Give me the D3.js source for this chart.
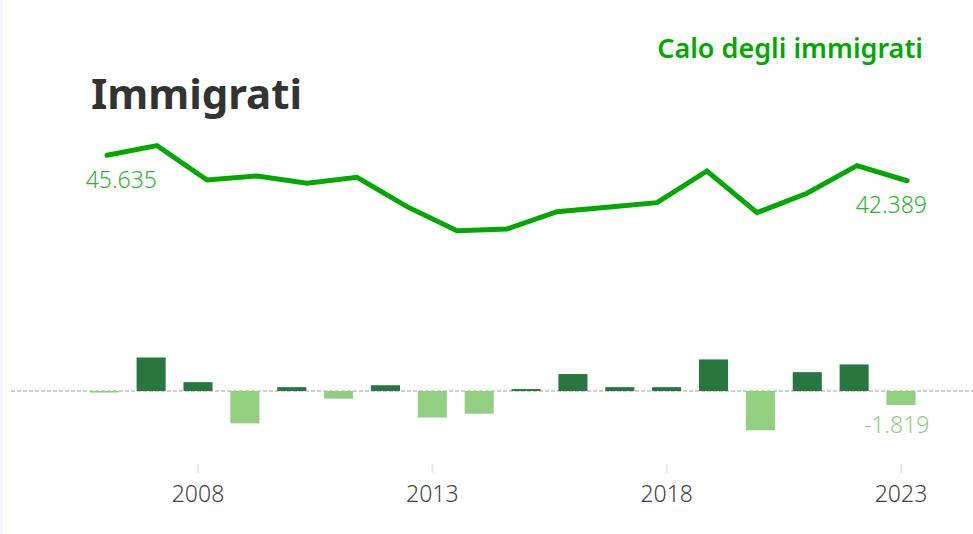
<!DOCTYPE html>
<html>
<head>
<meta charset="utf-8">
<script src="https://cdn.jsdelivr.net/npm/d3@7"></script>
<style>
  body { margin: 0; background: #fff; }
  svg { display: block; font-family: "Noto Sans", "Open Sans", sans-serif; }
</style>
</head>
<body>
<svg width="973" height="534"></svg>
<script>
// line: immigrati per anno (migliaia)
const lineYears = [2007, 2008, 2009, 2010, 2011, 2012, 2013, 2014, 2015, 2016, 2017, 2018, 2019, 2020, 2021, 2022, 2023];
const lineValues = [45.635, 46.86, 42.49, 43.0, 42.07, 42.83, 39.09, 36.03, 36.25, 38.45, 39.01, 39.6, 43.63, 38.32, 40.79, 44.31, 42.389];

// bars: variazione annua (migliaia)
const barYears = [2006, 2007, 2008, 2009, 2010, 2011, 2012, 2013, 2014, 2015, 2016, 2017, 2018, 2019, 2020, 2021, 2022, 2023];
const barValues = [-0.2, 4.35, 1.15, -4.2, 0.5, -1.0, 0.75, -3.45, -2.95, 0.25, 2.2, 0.5, 0.5, 4.1, -5.1, 2.45, 3.45, -1.819];

const tickYears = [2008, 2013, 2018, 2023];

// italian style: 45.635, -1.819
const fmtNum = v => (v < 0 ? "-" : "") + Math.abs(v).toFixed(3);

const svg = d3.select("svg");

svg.append("rect")
    .attr("x", 0).attr("y", 0)
    .attr("width", 3).attr("height", 534)
    .attr("fill", "#f6f6fe");

// titles
svg.append("text")
    .attr("x", 91).attr("y", 109)
    .attr("font-size", 42)
    .attr("font-weight", 700)
    .attr("fill", "#333")
    .attr("textLength", 211)
    .text("Immigrati");

svg.append("text")
    .attr("x", 923).attr("y", 58)
    .attr("text-anchor", "end")
    .attr("font-size", 27)
    .attr("font-weight", 600)
    .attr("fill", "#00a800")
    .text("Calo degli immigrati");

// line chart
const xLine = d3.scaleLinear()
    .domain([2007, 2023])
    .range([107, 907]);

const yLine = d3.scaleLinear()
    .domain([30, 50])
    .range([278, 121]);

const line = d3.line()
    .x((d, i) => xLine(lineYears[i]))
    .y(d => yLine(d));

svg.append("path")
    .datum(lineValues)
    .attr("fill", "none")
    .attr("stroke", "#00a800")
    .attr("stroke-width", 5)
    .attr("stroke-linejoin", "miter")
    .attr("stroke-linecap", "round")
    .attr("d", line);

const first = lineValues[0], last = lineValues[lineValues.length - 1];
svg.append("text")
    .attr("x", xLine(lineYears[0]) + 50)
    .attr("y", yLine(first) + 33)
    .attr("text-anchor", "end")
    .attr("font-size", 23)
    .attr("font-weight", 300)
    .attr("fill", "#2cb52c")
    .text(fmtNum(first));

svg.append("text")
    .attr("x", xLine(lineYears[lineYears.length - 1]) + 20)
    .attr("y", yLine(last) + 32)
    .attr("text-anchor", "end")
    .attr("font-size", 23)
    .attr("font-weight", 300)
    .attr("fill", "#2cb52c")
    .text(fmtNum(last));

// bar chart
const step = (901 - 198) / 15;
const xBar = d3.scaleBand()
    .domain(barYears)
    .range([198 - 2.5 * step, 901 + step / 2])
    .paddingInner(0.38)
    .paddingOuter(0.19);

const yBar = d3.scaleLinear()
    .domain([-6, 6])
    .range([391 + 6 * 7.7, 391 - 6 * 7.7]);

svg.append("line")
    .attr("x1", 11).attr("x2", 973)
    .attr("y1", yBar(0)).attr("y2", yBar(0))
    .attr("stroke", "#cfcfcf")
    .attr("stroke-width", 2)
    .attr("stroke-dasharray", "4,2");

svg.selectAll(".bar")
    .data(barValues)
    .enter().append("rect")
    .attr("class", "bar")
    .attr("x", (d, i) => xBar(barYears[i]))
    .attr("width", xBar.bandwidth())
    .attr("y", d => yBar(Math.max(0, d)))
    .attr("height", d => Math.abs(yBar(d) - yBar(0)))
    .attr("fill", d => d >= 0 ? "#28773e" : "#91d080");

const lastBar = barValues[barValues.length - 1];
svg.append("text")
    .attr("x", xBar(barYears[barYears.length - 1]) + xBar.bandwidth() + 14)
    .attr("y", yBar(lastBar) + 28)
    .attr("text-anchor", "end")
    .attr("font-size", 23)
    .attr("font-weight", 300)
    .attr("fill", "#91d080")
    .text(fmtNum(lastBar));

// x axis
const xAxis = d3.axisBottom(xBar)
    .tickValues(tickYears)
    .tickSize(9)
    .tickSizeOuter(0)
    .tickPadding(13);

const gx = svg.append("g")
    .attr("transform", "translate(0,464)")
    .call(xAxis);

gx.select(".domain").remove();
gx.selectAll(".tick line")
    .attr("stroke", "#e8e8e8")
    .attr("stroke-width", 2);
gx.selectAll(".tick text")
    .attr("font-family", "\"Noto Sans\", \"Open Sans\", sans-serif")
    .attr("font-size", 23)
    .attr("font-weight", 300)
    .attr("fill", "#444");
</script>
</body>
</html>
